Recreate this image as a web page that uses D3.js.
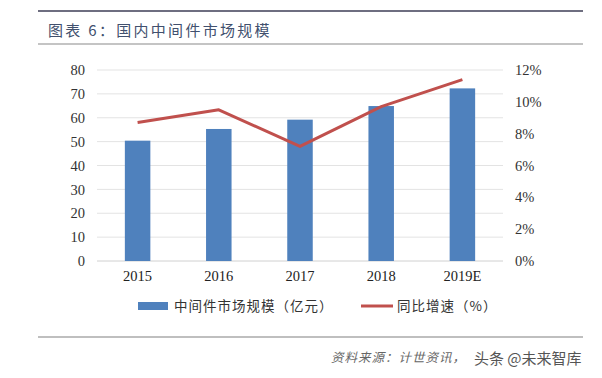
<!DOCTYPE html>
<html><head><meta charset="utf-8">
<script src="https://cdn.jsdelivr.net/npm/d3@7"></script>
<style>body{margin:0;background:#fff}svg{display:block}</style>
</head><body><svg id="c" width="602" height="378"></svg>
<script>
const categories = ["2015","2016","2017","2018","2019E"];
const marketSize = [50.4, 55.3, 59.2, 64.9, 72.3];
const growthPct = [8.7, 9.5, 7.2, 9.7, 11.4];
const leftTicks = [0,10,20,30,40,50,60,70,80];
const rightTicks = [0,2,4,6,8,10,12];
const titleText = "图表 6：国内中间件市场规模";
const legendBar = "中间件市场规模（亿元）";
const legendLine = "同比增速（%）";
const sourceText = "资料来源：计世资讯，";

const svg = d3.select("#c");
const serif = "'Liberation Serif','Times New Roman',serif";
const cjk = "'Noto Sans CJK SC',sans-serif";

// header / footer rules
svg.append("line").attr("x1",38).attr("x2",583).attr("y1",11).attr("y2",11).attr("stroke","#6e6e80").attr("stroke-width",2);
svg.append("line").attr("x1",38).attr("x2",583).attr("y1",44).attr("y2",44).attr("stroke","#8a8a8a").attr("stroke-width",1.2);
svg.append("line").attr("x1",38).attr("x2",583).attr("y1",337).attr("y2",337).attr("stroke","#808080").attr("stroke-width",1.2);
svg.append("text").attr("x",48).attr("y",36).attr("font-family",cjk).attr("font-size",15).attr("letter-spacing",2.3)
  .attr("fill","#41506e").text(titleText);

const x0 = 97, x1 = 503, yTop = 70, yBot = 261;
const x = d3.scaleBand().domain(categories).range([x0,x1]);
const yL = d3.scaleLinear().domain([0,80]).range([yBot,yTop]);
const yR = d3.scaleLinear().domain([0,12]).range([yBot,yTop]);

// gridlines
svg.append("g").selectAll("line").data(leftTicks).join("line")
  .attr("x1",x0).attr("x2",x1).attr("y1",d=>yL(d)).attr("y2",d=>yL(d))
  .attr("stroke",d=>d===0?"#d0d0d0":"#e3e3e3").attr("stroke-width",1);

// left axis
const gl = svg.append("g").attr("transform",`translate(${x0-6},0)`)
  .call(d3.axisLeft(yL).tickValues(leftTicks).tickSize(0).tickPadding(6));
gl.select(".domain").remove();
gl.selectAll("text").attr("font-family",serif).attr("font-size",14.5).attr("fill","#333");

// right axis
const gr = svg.append("g").attr("transform",`translate(${x1+6},0)`)
  .call(d3.axisRight(yR).tickValues(rightTicks).tickFormat(d=>d+"%").tickSize(0).tickPadding(6));
gr.select(".domain").remove();
gr.selectAll("text").attr("font-family",serif).attr("font-size",14.5).attr("fill","#333");

// x axis labels
const gx = svg.append("g").attr("transform",`translate(0,${yBot+3})`)
  .call(d3.axisBottom(x).tickSize(0).tickPadding(7));
gx.select(".domain").remove();
gx.selectAll("text").attr("font-family",serif).attr("font-size",14.5).attr("fill","#222");

// bars
const bw = 25.5;
svg.append("g").selectAll("rect").data(marketSize).join("rect")
  .attr("x",(d,i)=>x(categories[i])+x.bandwidth()/2-bw/2)
  .attr("width",bw)
  .attr("y",d=>yL(d)).attr("height",d=>yBot-yL(d))
  .attr("fill","#4f81bd");

// line
const line = d3.line().x((d,i)=>x(categories[i])+x.bandwidth()/2).y(d=>yR(d));
svg.append("path").datum(growthPct).attr("d",line).attr("fill","none")
  .attr("stroke","#c0504d").attr("stroke-width",3).attr("stroke-linejoin","round");

// legend
svg.append("rect").attr("x",138).attr("y",302).attr("width",30).attr("height",8).attr("fill","#4f81bd");
svg.append("text").attr("x",174).attr("y",311).attr("font-family",cjk).attr("font-size",13.5).attr("letter-spacing",1)
  .attr("fill","#333").text(legendBar);
svg.append("line").attr("x1",361).attr("x2",393).attr("y1",306).attr("y2",306).attr("stroke","#c0504d").attr("stroke-width",3);
svg.append("text").attr("x",397).attr("y",311).attr("font-family",cjk).attr("font-size",13.5).attr("letter-spacing",1)
  .attr("fill","#333").text(legendLine);

// source
svg.append("text").attr("x",331).attr("y",362).attr("font-family",cjk).attr("font-size",12.5).attr("font-style","italic")
  .attr("letter-spacing",1).attr("fill","#666").text(sourceText);
svg.append("text").attr("x",474).attr("y",364).attr("font-family",cjk).attr("font-size",15)
  .attr("fill","#555").text("头条 @未来智库");
</script></body></html>
